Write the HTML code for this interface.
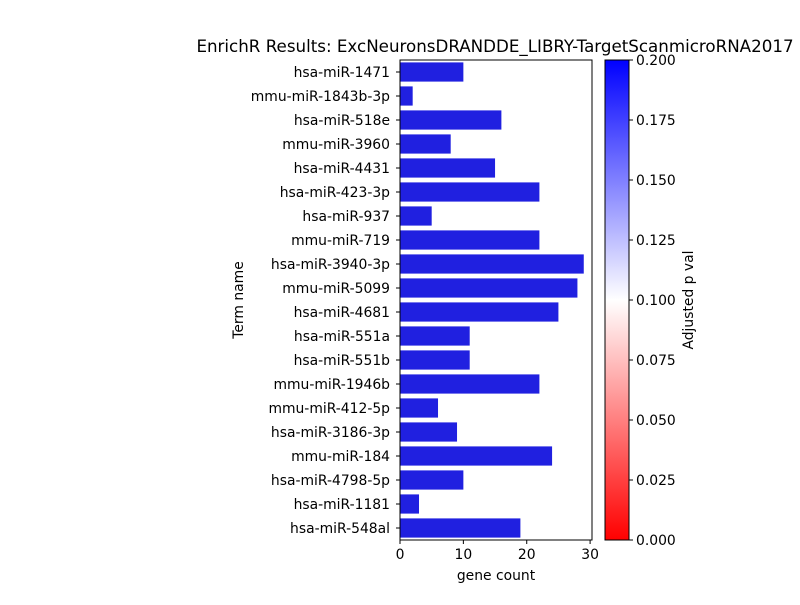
<!DOCTYPE html>
<html><head><meta charset="utf-8">
<style>
body{margin:0;background:#fff;}
svg text{font-family:"DejaVu Sans","Liberation Sans",sans-serif;fill:#000;}
</style></head>
<body>
<svg id="chart" width="800" height="600" viewBox="0 0 800 600" xmlns="http://www.w3.org/2000/svg">
<defs>
<linearGradient id="cbgrad" x1="0" y1="1" x2="0" y2="0">
<stop offset="0" stop-color="#ff0000"/>
<stop offset="0.5" stop-color="#ffffff"/>
<stop offset="1" stop-color="#0000ff"/>
</linearGradient>
</defs>
<text x="495" y="52" font-size="16.7" text-anchor="middle">EnrichR Results: ExcNeuronsDRANDDE_LIBRY-TargetScanmicroRNA2017</text>
<g id="bars"></g>
<g id="yticks"></g>
<g id="xticks"></g>
<rect x="400" y="60" width="192" height="480" fill="none" stroke="#000" stroke-width="1"/>
<text x="496" y="580" font-size="13.9" text-anchor="middle">gene count</text>
<text transform="translate(243,300) rotate(-90)" font-size="13.9" text-anchor="middle">Term name</text>
<rect x="605" y="60" width="24" height="480" fill="url(#cbgrad)" stroke="#000" stroke-width="1"/>
<g id="cbticks"></g>
<text transform="translate(693,300) rotate(-90)" font-size="13.9" text-anchor="middle">Adjusted p val</text>
</svg>
<script>
const terms=["hsa-miR-1471","mmu-miR-1843b-3p","hsa-miR-518e","mmu-miR-3960","hsa-miR-4431","hsa-miR-423-3p","hsa-miR-937","mmu-miR-719","hsa-miR-3940-3p","mmu-miR-5099","hsa-miR-4681","hsa-miR-551a","hsa-miR-551b","mmu-miR-1946b","mmu-miR-412-5p","hsa-miR-3186-3p","mmu-miR-184","hsa-miR-4798-5p","hsa-miR-1181","hsa-miR-548al"];
const counts=[10,2,16,8,15,22,5,22,29,28,25,11,11,22,6,9,24,10,3,19];
const xTicks=[0,10,20,30];
const cbTicks=[0,0.025,0.05,0.075,0.1,0.125,0.15,0.175,0.2];
const NS="http://www.w3.org/2000/svg";
const X0=400,XW=192,XMAX=30.3,Y0=60,YH=480,CB0=0,CB1=0.2;
const xs=v=>X0+v/XMAX*XW;
const slot=YH/terms.length;
const ys=i=>Y0+i*slot;
const cby=v=>540-(v-CB0)/(CB1-CB0)*480;
function mk(tag,attrs,parent){const e=document.createElementNS(NS,tag);for(const k in attrs)e.setAttribute(k,attrs[k]);parent.appendChild(e);return e;}
const gb=document.getElementById('bars'),gy=document.getElementById('yticks'),gx=document.getElementById('xticks'),gc=document.getElementById('cbticks');
terms.forEach((t,i)=>{
 const r=mk('rect',{x:xs(0),y:ys(i)+slot*0.1,width:xs(counts[i])-xs(0),height:slot*0.8,fill:'#2020e0'},gb);
 
 
 const cy=ys(i)+slot/2;
 const l=mk('line',{x1:X0-4,x2:X0,y1:cy,y2:cy,stroke:'#000'},gy);
 
 
 const tx=mk('text',{x:X0-10,y:cy+5,'font-size':13.9,'text-anchor':'end'},gy);
 tx.textContent=t;
 
 
});
xTicks.forEach(v=>{
 const x=xs(v);
 const l=mk('line',{x1:x,x2:x,y1:540,y2:544,stroke:'#000'},gx);
 
 
 const t=mk('text',{x:x,y:559,'font-size':13.9,'text-anchor':'middle'},gx);
 t.textContent=v;
 
 
});
cbTicks.forEach(v=>{
 const y=cby(v);
 const l=mk('line',{x1:629,x2:633,y1:y,y2:y,stroke:'#000'},gc);
 
 
 const t=mk('text',{x:636,y:y+5,'font-size':13.9},gc);
 t.textContent=v.toFixed(3);
 
 
});
</script>
</body></html>
